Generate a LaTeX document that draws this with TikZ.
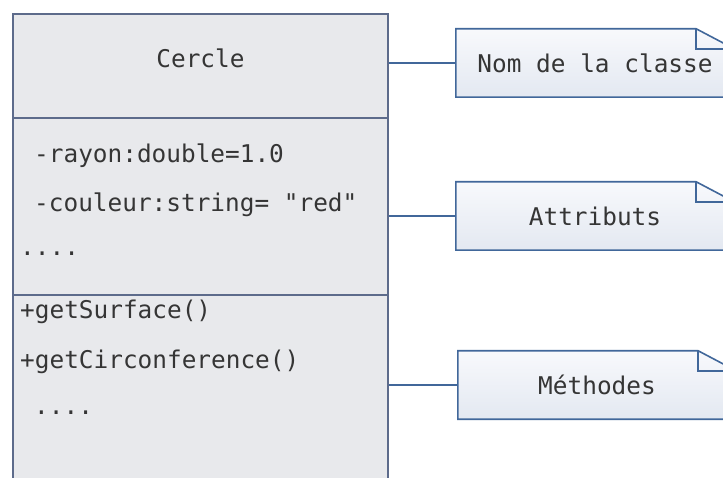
\documentclass[tikz,border=0pt]{standalone}
\usepackage{fontspec}
\setmonofont{DejaVu Sans Mono}
\usetikzlibrary{backgrounds}
\definecolor{boxfill}{HTML}{E8E9EC}
\definecolor{boxline}{HTML}{5D6B8B}
\definecolor{noteline}{HTML}{41679A}
\definecolor{notetop}{HTML}{F8F9FC}
\definecolor{notebot}{HTML}{E3E8F1}
\definecolor{txt}{HTML}{353535}
\tikzset{
  mono/.style={font=\ttfamily\fontsize{24.4}{28}\selectfont, text=txt, inner sep=0pt},
  compart/.style={rectangle, draw=boxline, line width=1.4pt, fill=boxfill, minimum width=375pt, inner sep=0pt},
  notebox/.style={mono, minimum width=278pt, minimum height=68pt},
  noteshape/.style={draw=noteline, line width=1.6pt, top color=notetop, bottom color=notebot, line join=miter},
  foldline/.style={draw=noteline, line width=1.6pt},
  conn/.style={draw=noteline, line width=1.6pt}
}
\begin{document}
\begin{tikzpicture}[x=1pt,y=1pt]
\useasboundingbox (0,0) rectangle (723,-478);
\clip (0,0) rectangle (723,-478);
% class compartments
\node[compart, minimum height=104pt] (cname) at (200.5,-66) {};
\node[compart, minimum height=177pt] (cattr) at (200.5,-206.5) {};
\node[compart, minimum height=200pt] (cmeth) at (200.5,-395) {};
% class texts
\node[mono, anchor=base] (tname) at (200.5,-68) {Cercle};
\node[mono, anchor=base west] (a1) at (34,-163) {-rayon:double=1.0};
\node[mono, anchor=base west] (a2) at (34,-211.5) {-couleur:string= "red"};
\node[mono, anchor=base west] (a3) at (20,-256) {....};
\node[mono, anchor=base west] (m1) at (20,-319) {+getSurface()};
\node[mono, anchor=base west] (m2) at (20,-368) {+getCirconference()};
\node[mono, anchor=base west] (m3) at (34,-414) {....};
% notes
\node[notebox] (n1) at (595,-63) {Nom de la classe};
\node[notebox] (n2) at (595,-216) {Attributs};
\node[notebox] (n3) at (597,-385) {Méthodes};
\begin{scope}[on background layer]
\foreach \n in {n1,n2,n3}{
  \path[noteshape] (\n.north west) -- ([xshift=-38pt]\n.north east) -- ([yshift=-20pt]\n.north east) -- (\n.south east) -- (\n.south west) -- cycle;
  \draw[foldline] ([xshift=-38pt]\n.north east) -- ++(0,-20pt) -- ([yshift=-20pt]\n.north east);
}
\end{scope}
% connectors
\draw[conn] (n1.west) -- (n1.west -| cname.east);
\draw[conn] (n2.west) -- (n2.west -| cattr.east);
\draw[conn] (n3.west) -- (n3.west -| cmeth.east);
\end{tikzpicture}
\end{document}
